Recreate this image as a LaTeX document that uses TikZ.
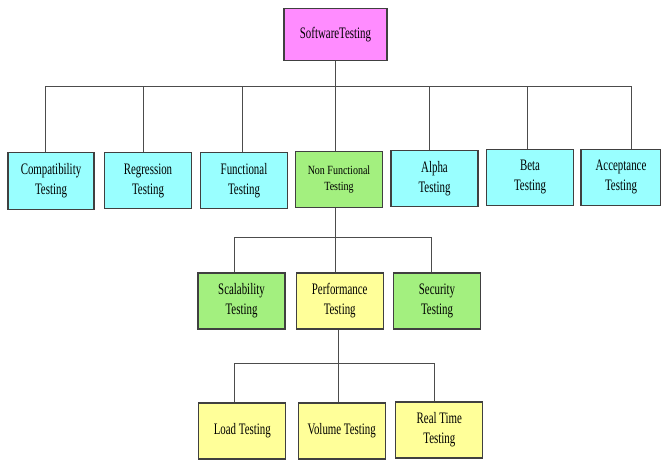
\documentclass[tikz,border=0pt]{standalone}
\usepackage{fontspec}
\setmainfont{Liberation Serif}[FakeStretch=0.68]
\newfontfamily\nfrm{Liberation Serif}[FakeStretch=0.8]
\usepackage{xcolor}
\usetikzlibrary{positioning}

\definecolor{rootpink}{HTML}{FF8CFF}
\definecolor{boxcyan}{HTML}{99FFFF}
\definecolor{boxgreen}{HTML}{A3F07F}
\definecolor{boxyellow}{HTML}{FFFF99}

\begin{document}
\begin{tikzpicture}[
    x=1pt, y=-1pt,
    every node/.style={align=center, inner sep=1pt},
    link/.style={draw=black!70, line width=0.9pt},
    tbox/.style={
      rectangle, draw=black!75, line width=1.2pt,
      font=\fontsize{16}{20}\selectfont,
      minimum width=87pt, minimum height=56pt
    },
    rootbox/.style={tbox, fill=rootpink,
      minimum width=103pt, minimum height=52pt},
    kind/.style={tbox, fill=boxcyan},
    nfbox/.style={tbox, fill=boxgreen},
    perfbox/.style={tbox, fill=boxyellow}
  ]
    \useasboundingbox (0,0) rectangle (661,461);

    % Top
    \node[rootbox] (root) at (335.5,34.5) {SoftwareTesting};

    % First level
    \node[kind, minimum width=86pt, minimum height=57pt] (compat) at (51,181) {Compatibility\\Testing};
    \node[kind] (regr)  at (148,180.5) {Regression\\Testing};
    \node[kind] (func)  at (244,180.5) {Functional\\Testing};
    \node[nfbox, font=\nfrm\fontsize{12.5}{15.5}\selectfont] (nonfunc) at (339,179.7) {Non Functional\\Testing};
    \node[kind] (alpha) at (434.5,178.3) {Alpha\\Testing};
    \node[kind] (beta)  at (530,177.3) {Beta\\Testing};
    \node[kind, minimum width=80pt] (accept) at (621,177.3) {Acceptance\\Testing};

    \coordinate (j1) at (45.5,86);
    \coordinate (j2) at (143.8,86);
    \coordinate (j3) at (242.4,86);
    \coordinate (j4) at (335.5,86);
    \coordinate (j5) at (429,86);
    \coordinate (j6) at (527,86);
    \coordinate (j7) at (631,86);

    \draw[link] (root.south) -- (j4);
    \draw[link] (j1) -- (j7);
    \draw[link] (j1) -- (j1 |- compat.north);
    \draw[link] (j2) -- (j2 |- regr.north);
    \draw[link] (j3) -- (j3 |- func.north);
    \draw[link] (j4) -- (j4 |- nonfunc.north);
    \draw[link] (j5) -- (j5 |- alpha.north);
    \draw[link] (j6) -- (j6 |- beta.north);
    \draw[link] (j7) -- (j7 |- accept.north);

    % Second level
    \node[nfbox]   (scal) at (241.5,301) {Scalability\\Testing};
    \node[perfbox] (perf) at (339.7,301) {Performance\\Testing};
    \node[nfbox]   (sec)  at (437,301) {Security\\Testing};

    \coordinate (k1) at (234,237.3);
    \coordinate (k2) at (335.7,237.3);
    \coordinate (k3) at (431.7,237.3);

    \draw[link] (nonfunc.south -| k2) -- (k2);
    \draw[link] (k1) -- (k3);
    \draw[link] (k1) -- (k1 |- scal.north);
    \draw[link] (k2) -- (k2 |- perf.north);
    \draw[link] (k3) -- (k3 |- sec.north);

    % Third level
    \node[perfbox] (load) at (242.3,431) {Load Testing};
    \node[perfbox] (vol)  at (341.7,431) {Volume Testing};
    \node[perfbox] (real) at (439.3,430) {Real Time\\Testing};

    \coordinate (m1) at (234,363.3);
    \coordinate (m2) at (338.3,363.3);
    \coordinate (m3) at (434,363.3);

    \draw[link] (perf.south -| m2) -- (m2);
    \draw[link] (m1) -- (m3);
    \draw[link] (m1) -- (m1 |- load.north);
    \draw[link] (m2) -- (m2 |- vol.north);
    \draw[link] (m3) -- (m3 |- real.north);

  \end{tikzpicture}
\end{document}
